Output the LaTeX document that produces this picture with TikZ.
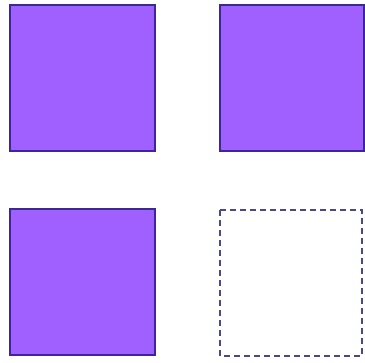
\documentclass[tikz,border=0pt]{standalone}
\begin{document}
\begin{tikzpicture}[x=1pt,y=-1pt,
  filled/.style={fill={rgb,255:red,160;green,96;blue,255},draw={rgb,255:red,58;green,40;blue,150},line width=1.6pt},
  empty/.style={draw={rgb,255:red,72;green,72;blue,140},line width=2pt,dash pattern=on 6pt off 4pt}]
\useasboundingbox (0,0) rectangle (365,363);
\fill[white] (0,0) rectangle (365,363);
\path[filled] (10,5) rectangle (155,151) coordinate (a);
\path[filled] (220,5) rectangle (364,151) coordinate (b);
\path[filled] (10,209) rectangle (155,355) coordinate (c);
\path[empty] (220,210) rectangle (362,356) coordinate (d);
\end{tikzpicture}
\end{document}
